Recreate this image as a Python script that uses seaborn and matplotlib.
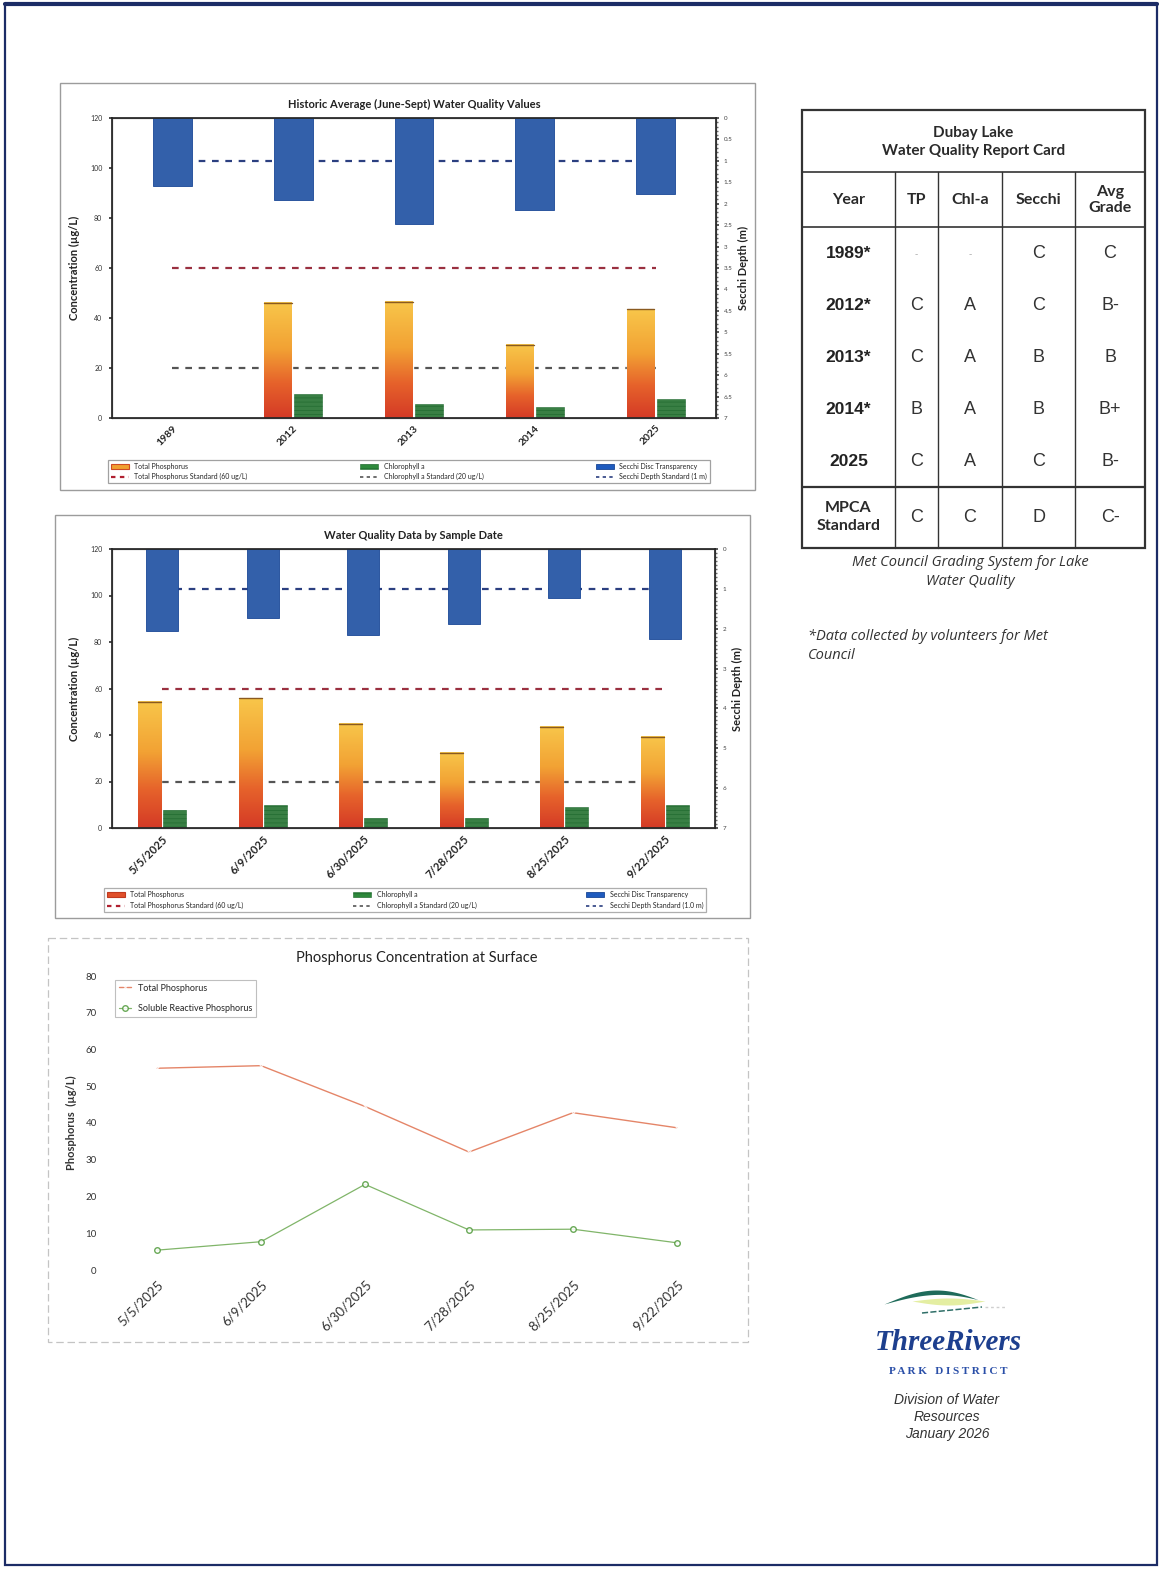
import numpy as np
import pandas as pd
import matplotlib
matplotlib.use('Agg')
import matplotlib.pyplot as plt
import seaborn as sns
from matplotlib.patches import Rectangle, Patch
from matplotlib.lines import Line2D
from matplotlib.colors import LinearSegmentedColormap

# ---- data ----
hist_years = ['1989', '2012', '2013', '2014', '2025']
hist_tp = [np.nan, 46.2, 46.6, 29.3, 43.5]
hist_chla = [np.nan, 9.8, 5.8, 4.4, 7.8]
hist_secchi = [1.58, 1.92, 2.47, 2.14, 1.77]

sample_dates = ['5/5/2025', '6/9/2025', '6/30/2025', '7/28/2025', '8/25/2025', '9/22/2025']
sample_tp = [54.4, 55.7, 44.8, 32.3, 43.5, 39.2]
sample_chla = [7.9, 9.8, 4.4, 4.2, 9.0, 10.0]
sample_secchi = [2.05, 1.72, 2.17, 1.88, 1.22, 2.26]

surface_tp = [54.9, 55.6, 44.5, 32.1, 42.8, 38.7]
surface_srp = [5.4, 7.7, 23.3, 10.9, 11.1, 7.4]

tp_std = 60
chla_std = 20
secchi_std = 1.0

card_years = ['1989*', '2012*', '2013*', '2014*', '2025']
card_tp = ['-', 'C', 'C', 'B', 'C']
card_chla = ['-', 'A', 'A', 'A', 'A']
card_secchi = ['C', 'C', 'B', 'B', 'C']
card_avg = ['C', 'B-', 'B', 'B+', 'B-']
mpca_grades = ['C', 'C', 'D', 'C-']

sns.set_theme(style='white')
plt.rcParams['font.family'] = ['Lato', 'DejaVu Sans']
plt.rcParams['hatch.linewidth'] = 0.5

W, H = 1162, 1570
fig = plt.figure(figsize=(11.62, 15.70), dpi=100)


def box(x0, y0, x1, y1):
    return [x0 / W, 1 - y1 / H, (x1 - x0) / W, (y1 - y0) / H]


# page layer for frames, table and logo (pixel coordinates)
page = fig.add_axes([0, 0, 1, 1])
page.set_xlim(0, W)
page.set_ylim(H, 0)
page.axis('off')

navy = '#1c2c66'
page.add_patch(Rectangle((5, 4), 1152, 1561, fill=False, ec=navy, lw=1.6))
page.plot([5, 1157], [4, 4], color=navy, lw=3)
page.add_patch(Rectangle((60, 83), 695, 407, fill=False, ec='#9c9c9c', lw=1))
page.add_patch(Rectangle((55, 515), 695, 403, fill=False, ec='#9c9c9c', lw=1))
page.add_patch(Rectangle((48, 938), 700, 404, fill=False, ec='#c4c4c4', lw=0.9, ls=(0, (6, 3))))

tp_cmap = LinearSegmentedColormap.from_list(
    'tp', [(0, '#d43a26'), (0.3, '#e6622b'), (0.6, '#f2a234'), (1, '#f8c64a')])
chl_green = '#2e8a3c'
secchi_blue = '#1f5bbe'


def wq_chart(rect, cats, tp, chla, secchi, title, right_step, secchi_lbl, label_fs):
    ax = fig.add_axes(box(*rect))
    df = pd.DataFrame({
        'cat': cats * 2,
        'param': ['Total Phosphorus'] * len(cats) + ['Chlorophyll a'] * len(cats),
        'value': list(tp) + list(chla),
    })
    sns.barplot(data=df, x='cat', y='value', hue='param', order=cats,
                hue_order=['Total Phosphorus', 'Chlorophyll a'],
                palette=['#f09a30', chl_green], width=0.5, gap=0.08,
                ax=ax, legend=False, err_kws={'linewidth': 0}, zorder=2)
    # gradient fill on phosphorus bars, striped chlorophyll bars
    grad = np.linspace(0, 1, 256).reshape(-1, 1)
    for p in ax.containers[0]:
        h = p.get_height()
        if np.isnan(h) or h == 0:
            continue
        x0 = p.get_x()
        ax.imshow(grad, extent=[x0, x0 + p.get_width(), 0, h], origin='lower',
                  aspect='auto', cmap=tp_cmap, zorder=2.1, interpolation='bicubic')
        ax.plot([x0, x0 + p.get_width()], [h, h], color='#8a5a20', lw=1, zorder=2.2)
    for p in ax.containers[1]:
        p.set_edgecolor('#226b30')
        p.set_hatch('----')
        p.set_linewidth(0.4)
    n = len(cats)
    xs = np.arange(n)
    ax.plot(xs, np.full(n, tp_std), ls=(0, (3, 3)), color='#9a3040', lw=1.6, zorder=1)
    ax.plot(xs, np.full(n, chla_std), ls=(0, (3, 3)), color='#555555', lw=1.6, zorder=1)
    ax.set_ylim(0, 120)
    ax.set_yticks(range(0, 121, 20))
    ax.tick_params(axis='y', labelsize=5, length=2, pad=5, colors='#333333')
    ax.set_xlabel('')
    ax.set_ylabel('Concentration (µg/L)', fontsize=8, fontweight='bold', labelpad=7, color='#222222')
    ax.set_title(title, fontsize=8, fontweight='bold', pad=7, color='#222222')
    for s in ax.spines.values():
        s.set_color('#7a7a7a')
        s.set_linewidth(0.9)

    ax2 = ax.twinx()
    sns.barplot(x=list(range(n)), y=secchi, ax=ax2, color=secchi_blue, width=0.32,
                native_scale=True, err_kws={'linewidth': 0}, zorder=2)
    for p in ax2.patches:
        p.set_edgecolor('#1a4796')
        p.set_linewidth(0.6)
    ax2.plot(xs, np.full(n, secchi_std), ls=(0, (3, 3)), color='#2b3f80', lw=1.6, zorder=1)
    ax2.set_ylim(7, 0)
    ax2.set_yticks(np.arange(0, 7.01, right_step))
    ax2.set_yticklabels([('%g' % v) for v in np.arange(0, 7.01, right_step)])
    ax2.set_yticks(np.arange(0, 7.01, 0.1), minor=True)
    ax2.tick_params(axis='y', which='major', labelsize=4.5, length=2, colors='#444444')
    ax2.tick_params(axis='y', which='minor', length=1.5, color='#666666')
    ax2.set_ylabel('Secchi Depth (m)', fontsize=8, fontweight='bold', labelpad=4, color='#222222')

    # category labels last, since the twin shares the x axis
    ax.set_xlim(-0.5, n - 0.5)
    ax.set_xticks(xs)
    ax.set_xticklabels(cats, rotation=45, ha='right', rotation_mode='anchor',
                       fontsize=label_fs, fontweight='bold', color='#222222')
    ax.tick_params(axis='x', length=0, pad=4, labelbottom=True)
    ax2.tick_params(axis='x', length=0, labelbottom=False)

    handles = [
        Patch(fc='#f0a030', ec='#d04a24', lw=0.8),
        Line2D([], [], color='#b02030', ls=(0, (2, 2)), lw=1.6),
        Patch(fc=chl_green, ec='#226b30', hatch='----', lw=0.4),
        Line2D([], [], color='#555555', ls=(0, (2, 2)), lw=1.2),
        Patch(fc=secchi_blue, ec='#1a4796', lw=0.6),
        Line2D([], [], color='#2b3f80', ls=(0, (2, 2)), lw=1.2),
    ]
    labels = ['Total Phosphorus', 'Total Phosphorus Standard (60 ug/L)',
              'Chlorophyll a', 'Chlorophyll a Standard (20 ug/L)',
              'Secchi Disc Transparency', secchi_lbl]
    return ax, ax2, handles, labels


ax1, ax1b, h1, l1 = wq_chart((112, 118, 716, 418), hist_years, hist_tp, hist_chla, hist_secchi,
                             'Historic Average (June-Sept) Water Quality Values', 0.5,
                             'Secchi Depth Standard (1 m)', 7.5)
leg1 = ax1b.legend(h1, l1, ncol=3, fontsize=5, loc='lower left', mode='expand',
                   bbox_to_anchor=(108 / W, 1 - 483 / H, 602 / W, 32 / H),
                   bbox_transform=fig.transFigure, borderaxespad=0, frameon=True,
                   fancybox=False, edgecolor='#8a8a8a', handlelength=2.6, labelspacing=0.5)
leg1.get_frame().set_linewidth(0.9)

ax2a, ax2b, h2, l2 = wq_chart((112, 549, 715, 828), sample_dates, sample_tp, sample_chla, sample_secchi,
                              'Water Quality Data by Sample Date', 1,
                              'Secchi Depth Standard (1.0 m)', 8)
h2[0] = Patch(fc='#e0502a', ec='#c03a20', lw=0.8)
leg2 = ax2b.legend(h2, l2, ncol=3, fontsize=5, loc='lower left', mode='expand',
                   bbox_to_anchor=(104 / W, 1 - 912 / H, 602 / W, 36 / H),
                   bbox_transform=fig.transFigure, borderaxespad=0, frameon=True,
                   fancybox=False, edgecolor='#9a9a9a', handlelength=2.6, labelspacing=0.6)
leg2.get_frame().set_linewidth(0.9)

# ---- phosphorus line chart ----
ax3 = fig.add_axes(box(105, 976, 729, 1270))
pos = np.arange(len(sample_dates))
sns.lineplot(x=pos, y=surface_tp, ax=ax3, color='#e0704e', lw=1.0, marker='x', ms=3,
             mew=0.8, label='Total Phosphorus', alpha=0.85)
sns.lineplot(x=pos, y=surface_srp, ax=ax3, color='#6aa84f', lw=0.9, marker='o', ms=4,
             mfc='white', mec='#4f9a3a', mew=1, label='Soluble Reactive Phosphorus', alpha=0.85)
ax3.set_xlim(-0.5, len(pos) - 0.5)
ax3.set_ylim(0, 80)
ax3.set_yticks(range(0, 81, 10))
ax3.tick_params(axis='y', labelsize=7, length=0, pad=6, colors='#333333')
ax3.set_xticks(pos)
ax3.set_xticklabels(sample_dates, rotation=45, ha='right', rotation_mode='anchor',
                    fontsize=9.5, color='#333333')
ax3.tick_params(axis='x', length=0, pad=6)
for s in ax3.spines.values():
    s.set_visible(False)
ax3.set_ylabel('Phosphorus  (µg/L)', fontsize=8, fontweight='bold', labelpad=6, color='#333333')
ax3.set_title('Phosphorus Concentration at Surface', fontsize=10.5, pad=10, color='#222222')
leg3 = ax3.legend(loc='upper left', bbox_to_anchor=(115 / W, 1 - 980 / H),
                  bbox_transform=fig.transFigure, borderaxespad=0, fontsize=6.5,
                  frameon=True, fancybox=False, edgecolor='#b0b0b0', labelspacing=1.3,
                  handlelength=1.4)
leg3.get_frame().set_linewidth(0.8)

# ---- report card table ----
tx0, tx1 = 802, 1145
col_x = [802, 895, 938, 1002, 1075, 1145]
page.add_patch(Rectangle((tx0, 110), tx1 - tx0, 438, fill=False, ec='#333333', lw=1.6))
page.plot([tx0, tx1], [172, 172], color='#333333', lw=1.2)
page.plot([tx0, tx1], [227, 227], color='#333333', lw=1.2)
page.plot([tx0, tx1], [487, 487], color='#333333', lw=1.6)
for cx in col_x[1:-1]:
    page.plot([cx, cx], [172, 548], color='#333333', lw=1.0)
centers = [(col_x[i] + col_x[i + 1]) / 2 for i in range(5)]
page.text((tx0 + tx1) / 2, 142, 'Dubay Lake\nWater Quality Report Card', ha='center', va='center',
          fontsize=11, fontweight='bold', color='#2a2a2a', linespacing=1.35)
for cx, lbl in zip(centers, ['Year', 'TP', 'Chl-a', 'Secchi', 'Avg\nGrade']):
    page.text(cx, 200, lbl, ha='center', va='center', fontsize=11.5, fontweight='bold',
              color='#2a2a2a', linespacing=1.2)
row_y = [254, 306, 357, 409, 461]
for ry, yr, a, b, c, d in zip(row_y, card_years, card_tp, card_chla, card_secchi, card_avg):
    page.text(centers[0], ry, yr, ha='center', va='center', fontsize=12.5, fontweight='bold',
              family=['Liberation Sans', 'DejaVu Sans'], color='#222222')
    for cx, g in zip(centers[1:], [a, b, c, d]):
        col = '#aaaaaa' if g == '-' else '#333333'
        fs = 7 if g == '-' else 13
        page.text(cx, ry, g, ha='center', va='center', fontsize=fs, color=col,
                  family=['Liberation Sans', 'DejaVu Sans'])
page.text(centers[0], 517, 'MPCA\nStandard', ha='center', va='center', fontsize=11.5,
          fontweight='bold', color='#2a2a2a', linespacing=1.3)
for cx, g in zip(centers[1:], mpca_grades):
    page.text(cx, 517, g, ha='center', va='center', fontsize=13, color='#333333',
              family=['Liberation Sans', 'DejaVu Sans'])
page.text(970, 572, 'Met Council Grading System for Lake\nWater Quality', ha='center',
          va='center', fontsize=10.5, style='italic', color='#333333',
          family=['Open Sans', 'DejaVu Sans'], linespacing=1.45)
page.text(808, 646, '*Data collected by volunteers for Met\nCouncil', ha='left', va='center',
          fontsize=10.5, style='italic', color='#333333', family=['Open Sans', 'DejaVu Sans'],
          linespacing=1.45)

# ---- logo ----
sx = np.linspace(884, 978, 80)
ph = np.pi * (sx - 884) / 94
top = 1304 - 14 * np.sin(ph * 0.9)
thick = 4.5 * np.sin(ph)
page.fill_between(sx, top, top + thick, color='#1f6b5a', lw=0)
yx = np.linspace(912, 985, 60)
yt = 1301 - 3 * np.sin(np.pi * (yx - 912) / 73)
page.fill_between(yx, yt, yt + 7 * np.sin(np.pi * (yx - 912) / 73), color='#e4eea2', lw=0)
dx = np.linspace(922, 982, 40)
page.plot(dx, 1313 - 6 * (dx - 922) / 60, color='#2f6f68', lw=1.1, ls=(0, (4, 1.5)))
page.plot([985, 1005], [1307, 1307], color='#cfcfcf', lw=1, ls=(0, (2, 2)))
page.text(948, 1343, 'ThreeRivers', ha='center', va='center', fontsize=21, fontweight='bold',
          style='italic', color='#1d3f8e', family=['Liberation Serif', 'DejaVu Serif'])
page.text(948, 1371, 'P A R K   D I S T R I C T', ha='center', va='center', fontsize=8,
          fontweight='bold', color='#2a4fa8', family=['Liberation Serif', 'DejaVu Serif'])
page.text(947, 1417, 'Division of Water\nResources\nJanuary 2026', ha='center', va='center',
          fontsize=10, style='italic', color='#333333', linespacing=1.3,
          family=['Liberation Sans', 'DejaVu Sans'])

fig.savefig('out.png', dpi=100)
